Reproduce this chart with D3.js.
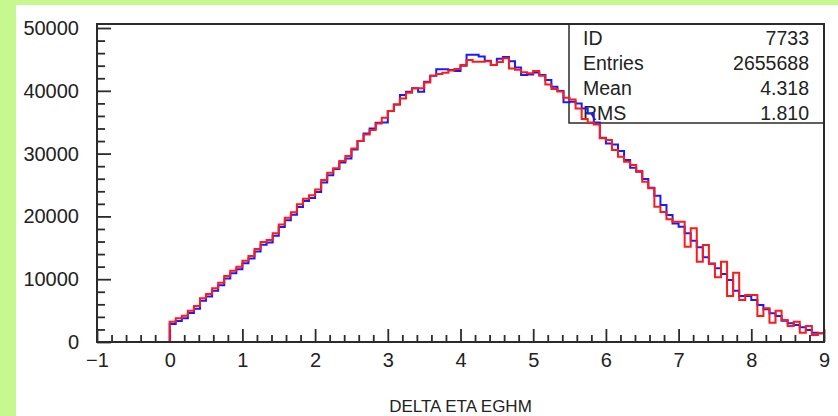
<!DOCTYPE html>
<html>
<head>
<meta charset="utf-8">
<script src="https://cdn.jsdelivr.net/npm/d3@7"></script>
<style>
    html, body { margin: 0; padding: 0; background: #fff; }
    svg { display: block; font-family: "Liberation Sans", Arial, sans-serif; }
</style>
</head>
<body>
<svg id="chart" width="838" height="416"></svg>
<script>
// histogram range 0..9, 108 bins
const xMin = 0, xMax = 9, nBins = 108;

const blueCounts = [
    2870, 3350, 3800, 4600, 5300, 6550, 7250, 8150, 9050, 10100, 10950, 11600,
    12550, 13300, 14400, 15500, 15850, 16900, 18300, 19400, 20250, 21500, 22450, 22950,
    23900, 25400, 26550, 27540, 28600, 29240, 30670, 32000, 33220, 34010, 34910, 34970,
    36780, 37840, 39320, 39850, 40390, 39850, 41450, 42400, 43420, 43420, 43300, 43140,
    44000, 45740, 45740, 45470, 44800, 44100, 45100, 45400, 44700, 43700, 42510, 42610,
    42930, 42510, 41710, 40650, 39960, 38160, 38260, 37990, 37200, 36400, 34970, 32530,
    31630, 31470, 30410, 28970, 27750, 27120, 25950, 24570, 23300, 21810, 20220, 18890,
    18360, 17300, 16130, 15070, 13480, 12520, 11730, 10830, 9870, 8170, 7320, 7320,
    6690, 5890, 5200, 4560, 4140, 3400, 2970, 2710, 2330, 1910, 1490, 1380
];

const redCounts = [
    3230, 3770, 4190, 4990, 5730, 6950, 7640, 8540, 9450, 10510, 11360, 11990,
    12950, 13690, 14800, 15920, 16240, 17300, 18730, 19790, 20650, 21920, 22820, 23350,
    24300, 25790, 26950, 27650, 28810, 29610, 30830, 32000, 33060, 33750, 34810, 35710,
    36780, 37840, 38790, 39690, 40390, 40390, 41340, 42400, 42670, 42880, 43250, 43460,
    44100, 44900, 44620, 44620, 44700, 44100, 44600, 45170, 43570, 43350, 42960, 42800,
    43170, 42400, 41000, 40300, 39900, 38900, 38600, 37200, 35500, 34970, 34650, 32430,
    32160, 30570, 29500, 28700, 28180, 27220, 25520, 24470, 21540, 20700, 19530, 19160,
    19160, 15170, 18100, 12790, 15440, 12420, 10300, 12790, 7320, 11040, 6690, 7480,
    7480, 4140, 5360, 3080, 4990, 3500, 2550, 3240, 1490, 2550, 1110, 1380
];

const xTicks = [-1, 0, 1, 2, 3, 4, 5, 6, 7, 8, 9];
const yTicks = [0, 10000, 20000, 30000, 40000, 50000];
const statLabels = ["ID", "Entries", "Mean", "RMS"];
const statValues = ["7733", "2655688", "4.318", "1.810"];
const xTitle = "DELTA ETA EGHM";

const frame = {left: 97, right: 824, top: 24, bottom: 342},
    ink = "#2b2b2b",
    green = "#c7f88f";

const svg = d3.select("#chart");

// light green border top / left
svg.append("rect").attr("x", 0).attr("y", 0).attr("width", 838).attr("height", 5).attr("fill", green);
svg.append("rect").attr("x", 0).attr("y", 0).attr("width", 16).attr("height", 416).attr("fill", green);

const x = d3.scaleLinear().domain([-1, 9]).range([frame.left, frame.right]);
const y = d3.scaleLinear().domain([0, 50640]).range([frame.bottom, frame.top]);

// minor ticks first
const xMinor = d3.range(-1, 9.001, 0.2).filter(v => Math.abs(v - Math.round(v)) > 1e-6);
const yMinor = d3.range(0, 50001, 2000).filter(v => v % 10000 !== 0);

svg.append("g")
    .attr("transform", `translate(0,${frame.bottom})`)
    .call(d3.axisBottom(x).tickValues(xMinor).tickSize(-7).tickFormat(""))
    .call(g => g.select(".domain").remove());

svg.append("g")
    .attr("transform", `translate(${frame.left},0)`)
    .call(d3.axisLeft(y).tickValues(yMinor).tickSize(-8).tickFormat(""))
    .call(g => g.select(".domain").remove());

const xAxis = svg.append("g")
    .attr("transform", `translate(0,${frame.bottom})`)
    .call(d3.axisBottom(x).tickValues(xTicks).tickSize(-13).tickPadding(11)
        .tickFormat(d => d < 0 ? "\u2212" + Math.abs(d) : d));
xAxis.select(".domain").remove();

const yAxis = svg.append("g")
    .attr("transform", `translate(${frame.left},0)`)
    .call(d3.axisLeft(y).tickValues(yTicks).tickSize(-14).tickPadding(18).tickFormat(d3.format("d")));
yAxis.select(".domain").remove();

svg.selectAll(".tick line").attr("stroke", ink).attr("stroke-width", 1.8);
svg.selectAll(".tick text")
    .attr("fill", "#222")
    .style("font-size", "20px")
    .style("font-family", "\"Liberation Sans\", Arial, sans-serif");

// stats box
svg.append("rect")
    .attr("x", 569).attr("y", frame.top)
    .attr("width", frame.right - 569).attr("height", 99)
    .attr("fill", "none").attr("stroke", ink).attr("stroke-width", 1.5);

statLabels.forEach((s, i) => {
    const base = 44.5 + 25 * i;
    svg.append("text").attr("x", 583).attr("y", base)
        .attr("fill", "#222").style("font-size", "19.5px").text(s);
    svg.append("text").attr("x", 809).attr("y", base)
        .attr("text-anchor", "end")
        .attr("fill", "#222").style("font-size", "19.5px").text(statValues[i]);
});

// histograms
const edges = d3.range(nBins + 1).map(i => xMin + i * (xMax - xMin) / nBins);

function outline(counts) {
    const pts = [[edges[0], 0]];
    counts.forEach((c, i) => {
        pts.push([edges[i], c]);
        pts.push([edges[i + 1], c]);
    });
    pts.push([edges[nBins], 0]);
    return pts;
}

const line = d3.line().x(d => x(d[0])).y(d => y(d[1]));

svg.append("path")
    .attr("d", line(outline(blueCounts)))
    .attr("fill", "none").attr("stroke", "#1a1aff").attr("stroke-width", 2);

svg.append("path")
    .attr("d", line(outline(redCounts)))
    .attr("fill", "none").attr("stroke", "#ff1a1a").attr("stroke-width", 2);

// frame
svg.append("rect")
    .attr("x", frame.left).attr("y", frame.top)
    .attr("width", frame.right - frame.left).attr("height", frame.bottom - frame.top)
    .attr("fill", "none").attr("stroke", ink).attr("stroke-width", 2);

svg.append("text")
    .attr("x", (frame.left + frame.right) / 2).attr("y", 412)
    .attr("text-anchor", "middle")
    .attr("fill", "#222").style("font-size", "17px")
    .text(xTitle);
</script>
</body>
</html>
